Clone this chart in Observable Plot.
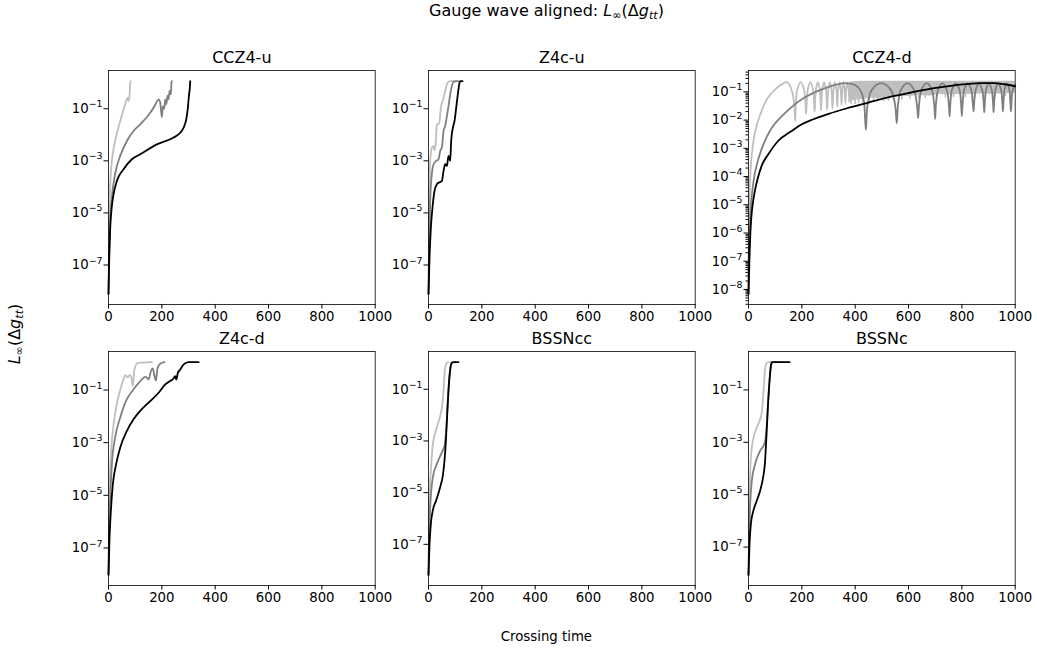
<!DOCTYPE html>
<html><head><meta charset="utf-8">
<script src="https://cdn.jsdelivr.net/npm/d3@7"></script>
<script src="https://cdn.jsdelivr.net/npm/@observablehq/plot@0.6"></script>
<style>
body{margin:0;background:#fff;font-family:"DejaVu Sans",sans-serif;}
#fig{position:relative;width:1037px;height:654px;overflow:hidden;background:#fff;}
.t{position:absolute;white-space:nowrap;color:#000;font-family:"DejaVu Sans",sans-serif;}
.t sub{font-size:70%;vertical-align:-0.28em;line-height:0;}
</style></head><body><div id="fig"></div><script>
// ---------- tick values ----------
const xTicks = [0, 200, 400, 600, 800, 1000];
const yTicksOdd = [1e-1, 1e-3, 1e-5, 1e-7];
const yTicksAll = [1e-1, 1e-2, 1e-3, 1e-4, 1e-5, 1e-6, 1e-7, 1e-8];
const panelTitles = ["CCZ4-u", "Z4c-u", "CCZ4-d", "Z4c-d", "BSSNcc", "BSSNc"];

// ---------- data: [crossing time, L_inf(Δg_tt)] ----------
// CCZ4-u
const ccz4uLight = [[0,7.8e-9],[2.75,2.8e-6],[6.5,1.26e-4],[12.75,1.0e-3],[25,5.8e-3],[44,0.034],[62.75,0.15],[71.5,0.26],[75,0.195],[79,0.35],[81.5,1.0],[84,1.15]];
const ccz4uMedium = [[0,7.8e-9],[3,3.2e-7],[6.5,5e-6],[12.75,4e-5],[25,3.2e-4],[44,1.55e-3],[69,5.8e-3],[94,0.014],[119,0.025],[144,0.048],[169,0.11],[181.5,0.19],[188,0.23],[194,0.17],[200,0.048],[204,0.126],[209,0.1],[213,0.23],[216.5,0.148],[221.5,0.316],[225,0.23],[229,0.48],[234,0.355],[236,1.0],[237.75,1.15]];
const ccz4uBlack = [[0,7.8e-9],[2.75,1.95e-7],[6.5,2.75e-6],[12.75,1.86e-5],[19,5.2e-5],[31.5,1.7e-4],[56.5,4.8e-4],[87.75,1.15e-3],[119,1.78e-3],[181.5,4.3e-3],[244,7.8e-3],[269,0.012],[281.5,0.0186],[291.5,0.039],[297.75,0.11],[301.5,0.31],[305,0.65],[306.5,1.15]];
// Z4c-u
const z4cuLight = [[0,7.8e-9],[2,3.2e-6],[4,1e-4],[6.4,1e-3],[12.6,3.2e-3],[19,3.7e-3],[23,2.5e-3],[27.6,5.8e-3],[31.4,0.025],[40,0.028],[46.4,0.11],[56.4,0.26],[62.6,0.48],[71.4,1.0],[81.4,1.15],[106,1.15]];
const z4cuMedium = [[0,7.8e-9],[3,1e-6],[6.4,2.9e-5],[12.6,3.1e-4],[19,7.4e-4],[29,1e-3],[37.6,1.15e-3],[43.9,2.4e-3],[50,3.2e-3],[56.4,0.014],[62.6,0.022],[68.9,0.052],[75,0.126],[81.4,0.355],[87.6,0.74],[93.9,1.1],[112.6,1.15]];
const z4cuBlack = [[0,7.8e-9],[3.9,1.95e-7],[8.9,2.75e-6],[15,1.6e-5],[22.6,7.1e-5],[31.4,1.26e-4],[41.4,1.5e-4],[50,1.66e-4],[56.4,4.1e-4],[62.6,7.4e-4],[68.9,6.3e-4],[75,1.55e-3],[81.4,1e-3],[85,5.8e-3],[91.4,0.0186],[97.6,0.034],[103.9,0.11],[110,0.355],[115,0.85],[119,1.15],[127.6,1.15]];
// CCZ4-d
const ccz4dLight = [[0,7e-9],[1,3.2e-7],[3,6.3e-6],[6,7.9e-5],[12,5.6e-4],[25,4e-3],[44,0.0158],[69,0.055],[100,0.123],[131,0.2],[144,0.22],[155,0.17],[165,0.089],[171,0.04],[175,0.0091],
  [177.5,0.038],[183,0.12],[195.5,0.22],[208,0.12],[213.5,0.038],[216,0.0166],
  [218,0.038],[222.4,0.12],[232,0.22],[241.6,0.12],[246,0.038],[248,0.02],
  [249.5,0.038],[252.8,0.12],[260,0.22],[267.2,0.12],[270.5,0.038],[272,0.0224],
  [273.4,0.038],[276.6,0.12],[283.5,0.22],[290.4,0.12],[293.6,0.038],[295,0.024],
  [296.2,0.04],[299,0.12],[305,0.22],[311,0.12],[313.8,0.04],[315,0.026],
  [318.6,0.12],[324,0.22],[329.4,0.12],[333,0.03],
  [336.2,0.12],[341,0.22],[345.8,0.12],[349,0.035],
  [351.8,0.12],[356,0.22],[360.2,0.12],[363,0.04],
  [366,0.12],[370.5,0.22],[375,0.12],[378,0.045]];
const ccz4dLightBand = [[378,0.045,0.22],[400,0.05,0.235],[430,0.055,0.24],[460,0.06,0.24],[490,0.058,0.24],[520,0.065,0.24],[560,0.07,0.24],[600,0.068,0.24],[640,0.075,0.24],[680,0.072,0.24],[720,0.08,0.24],[760,0.078,0.24],[800,0.082,0.24],[840,0.08,0.24],[880,0.085,0.24],[920,0.08,0.24],[960,0.085,0.24],[1000,0.09,0.24]];
const ccz4dLightSpikes = [[385,0.035],[400,0.036],[413,0.038],[428,0.04],[453,0.04],[469,0.042],[484,0.045],[506,0.045],[525,0.047],[544,0.05],[575,0.05],[606,0.055],[638,0.055],[663,0.058],[706,0.06],[738,0.06],[769,0.062],[813,0.062],[850,0.065],[888,0.065],[925,0.065],[963,0.068],[988,0.068]];
const ccz4dMedium = [[0,7e-9],[2,3.2e-7],[6.4,3.2e-6],[12.6,2.2e-5],[25,1.5e-4],[50,1.0e-3],[87.6,5.4e-3],[137.6,0.018],[200,0.055],[275,0.123],[350,0.2],[365,0.204],[380,0.195],[400,0.174],[415,0.132],[425,0.089],[433,0.045],[440,0.0045],
  [447,0.038],[463,0.12],[498,0.204],[533,0.12],[549,0.038],[556,0.0078],
  [561,0.038],[572,0.12],[596,0.204],[620,0.12],[631,0.038],[636,0.0117],
  [640,0.038],[649,0.12],[668,0.204],[687,0.12],[696,0.038],[700,0.011],
  [703,0.038],[711,0.12],[727,0.2],[743,0.12],[751,0.038],[754,0.0135],
  [757,0.038],[763,0.12],[777,0.2],[791,0.12],[797,0.038],[800,0.0138],
  [803,0.038],[809,0.12],[822,0.2],[835,0.12],[841,0.038],[844,0.0204],
  [846,0.038],[852,0.12],[864,0.2],[876,0.12],[882,0.038],[884,0.019],
  [886,0.038],[891,0.12],[901,0.2],[912,0.12],[917,0.038],[919,0.019],
  [921,0.038],[926,0.12],[936,0.2],[947,0.12],[952,0.038],[954,0.0204],
  [956,0.038],[960,0.12],[969,0.195],[978,0.12],[982,0.038],[984,0.0204],
  [986,0.038],[990,0.11],[1000,0.18]];
const ccz4dBlack = [[0,7e-9],[2,3.2e-8],[4,1.6e-7],[7,1e-6],[11,4e-6],[17,1.26e-5],[25,3.5e-5],[35,8.9e-5],[50,2.5e-4],[75,6.3e-4],[110,1.78e-3],[160,4e-3],[200,7.1e-3],[240,0.0105],[300,0.0166],[370,0.0263],[450,0.0417],[530,0.066],[610,0.095],[690,0.132],[780,0.174],[870,0.204],[920,0.204],[960,0.186],[1000,0.158]];
// Z4c-d
const z4cdLight = [[0,1e-8],[2,1e-6],[5,4e-5],[10,5e-4],[17,3.2e-3],[25,0.0126],[35,0.045],[45,0.112],[55,0.24],[63,0.37],[72,0.3],[80,0.38],[87,0.26],[91,0.14],[96,0.5],[102,0.87],[112,1.07],[163,1.15]];
const z4cdMedium = [[0,1e-8],[2,3.2e-7],[6.5,8.7e-6],[12.75,1.6e-4],[25,1.6e-3],[44,9.1e-3],[69,0.045],[94,0.107],[119,0.22],[138,0.316],[144,0.295],[150,0.25],[159,0.52],[166,0.66],[172.6,0.34],[177.6,0.23],[184,0.69],[194,1.0],[210,1.15]];
const z4cdBlack = [[0,9.5e-9],[4,2.7e-7],[9,2.7e-6],[16.5,2.75e-5],[29,1.6e-4],[44,6.6e-4],[69,2.8e-3],[94,7.8e-3],[119,0.0162],[156.5,0.038],[188,0.079],[212,0.162],[231,0.22],[244,0.275],[250,0.34],[254,0.25],[260,0.45],[269,0.6],[281,0.93],[300,1.15],[338,1.15]];
// BSSNcc
const bssnccLight = [[0,6.6e-9],[4,6.8e-6],[9,7.2e-5],[16.4,7.6e-4],[31.4,3.4e-3],[43.9,9.3e-3],[50,0.0195],[56.4,0.087],[60,0.38],[66.4,1.0],[75,1.12]];
const bssnccMedium = [[0,6.6e-9],[2,1.6e-7],[6.4,2.8e-6],[16.4,4e-5],[31.4,1.3e-4],[50,3.6e-4],[60,6.6e-4],[66,2.5e-3],[71,0.0178],[76,0.14],[81,0.56],[87,1.07],[100,1.12]];
const bssnccBlack = [[0,6.6e-9],[4,1.1e-7],[9,6.5e-7],[16.4,2.1e-6],[29,5.1e-6],[43.9,1.66e-5],[53.9,4.7e-5],[58.9,1.3e-4],[65.2,1.0e-3],[71.4,0.0195],[76.4,0.155],[81.4,0.59],[87.6,1.07],[93.9,1.12],[112.6,1.12]];
// BSSNc
const bssncLight = [[0,8.7e-9],[4,8.1e-6],[9,2.7e-4],[19,1.55e-3],[31.4,3.7e-3],[43.9,7.8e-3],[50,0.0138],[56.4,0.091],[61.4,0.52],[66.4,1.02],[75,1.15],[87.6,1.15]];
const bssncMedium = [[0,8.7e-9],[2,1.6e-7],[6.4,4.6e-6],[12.6,3.5e-5],[25,1.5e-4],[43.9,4.8e-4],[58.9,8.7e-4],[64,1.4e-3],[68,4e-3],[72.6,0.025],[78.9,0.24],[83.9,0.85],[88.9,1.15],[120,1.15]];
const bssncBlack = [[0,8.7e-9],[4,1.4e-7],[9,7.9e-7],[19,2.6e-6],[31.4,6e-6],[43.9,1.45e-5],[53.9,4.1e-5],[61.4,1.5e-4],[66.4,1.15e-3],[72.6,0.0214],[78.9,0.22],[83.9,0.81],[88.9,1.15],[154,1.15]];

// ---------- layout ----------
const FW = 266.7, FH = 234;
const ML = 62, MR = 26, MT = 32, MB = 34;
const colLeft = [108.3, 428.3, 748.3];
const rowTop = [70, 351];
const COL = {light: "#bfbfbf", medium: "#7f7f7f", dark: "#000000"};
const SUP = {"0":"⁰","1":"¹","2":"²","3":"³","4":"⁴","5":"⁵","6":"⁶","7":"⁷","8":"⁸","9":"⁹","-":"⁻"};
const UNSUP = Object.fromEntries(Object.entries(SUP).map(([k, v]) => [v, k === "-" ? "−" : k]));
const fmt = v => "10" + String(Math.round(Math.log10(v))).split("").map(c => SUP[c]).join("");

const panels = [
  {title: panelTitles[0], c: 0, r: 0, s: [ccz4uLight, ccz4uMedium, ccz4uBlack], yt: yTicksOdd},
  {title: panelTitles[1], c: 1, r: 0, s: [z4cuLight, z4cuMedium, z4cuBlack], yt: yTicksOdd},
  {title: panelTitles[2], c: 2, r: 0, s: [ccz4dLight, ccz4dMedium, ccz4dBlack], yt: yTicksAll, band: true},
  {title: panelTitles[3], c: 0, r: 1, s: [z4cdLight, z4cdMedium, z4cdBlack], yt: yTicksOdd},
  {title: panelTitles[4], c: 1, r: 1, s: [bssnccLight, bssnccMedium, bssnccBlack], yt: yTicksOdd},
  {title: panelTitles[5], c: 2, r: 1, s: [bssncLight, bssncMedium, bssncBlack], yt: yTicksOdd}
];

function logDomain(vals) {
  const a = Math.log10(d3.min(vals)), b = Math.log10(d3.max(vals)), m = 0.05 * (b - a);
  return [10 ** (a - m), 10 ** (b + m)];
}

const fig = document.getElementById("fig");
for (const p of panels) {
  let vals = p.s.flat().map(d => d[1]);
  if (p.band) vals = vals.concat(ccz4dLightBand.map(d => d[2]));
  const dom = logDomain(vals);
  const colors = [COL.light, COL.medium, COL.dark];
  const curve = p.band ? "catmull-rom" : "monotone-x";
  const marks = [];
  if (p.band) {
    marks.push(Plot.areaY(ccz4dLightBand, {x: d => d[0], y1: d => d[1], y2: d => d[2], fill: COL.light, curve: "linear"}));
    marks.push(Plot.ruleX(ccz4dLightSpikes, {x: d => d[0], y1: d => d[1], y2: 0.1, stroke: COL.light, strokeWidth: 1.6}));
  }
  p.s.forEach((s, i) => {
    marks.push(Plot.line(s, {x: d => d[0], y: d => d[1], stroke: colors[i], strokeWidth: 1.8,
      curve: (p.band && i === 2) ? "monotone-x" : curve}));
  });
  marks.push(Plot.frame({stroke: "#000", strokeWidth: 0.8}));
  marks.push(Plot.axisX({ticks: xTicks, tickSize: 4.5, tickPadding: 3, tickFormat: d => String(d), label: null}));
  marks.push(Plot.axisY({ticks: p.yt, tickSize: 4.5, tickPadding: 1.5, tickFormat: fmt, label: null}));
  if (p.band) {
    const minor = [];
    for (let k = -9; k <= 0; k++) for (let m = 2; m <= 9; m++) {
      const v = m * 10 ** k;
      if (v > dom[0] && v < dom[1]) minor.push(v);
    }
    marks.push(Plot.axisY({ticks: minor, tickSize: 2.5, tickFormat: () => "", label: null}));
  }
  marks.push(Plot.text([p.title], {frameAnchor: "top", lineAnchor: "bottom", dy: -7.3, fontSize: 16, text: d => d}));
  const svg = Plot.plot({
    width: ML + FW + MR, height: MT + FH + MB,
    marginLeft: ML, marginRight: MR, marginTop: MT, marginBottom: MB,
    x: {domain: [0, 1000]},
    y: {type: "log", domain: dom},
    style: {fontFamily: "DejaVu Sans", fontSize: "13.3px", color: "#000", background: "transparent", overflow: "visible"},
    marks
  });
  // render exponent as a raised, smaller tspan (like matplotlib mathtext)
  svg.querySelectorAll("text").forEach(t => {
    const m = /^10([⁻⁰¹²³⁴⁵⁶⁷⁸⁹]+)$/.exec(t.textContent);
    if (!m) return;
    const exp = m[1].split("").map(c => UNSUP[c]).join("");
    t.textContent = "10";
    const ts = document.createElementNS("http://www.w3.org/2000/svg", "tspan");
    ts.setAttribute("font-size", "9.4px");
    ts.setAttribute("dy", "-5.7");
    ts.textContent = exp;
    t.appendChild(ts);
  });
  svg.style.position = "absolute";
  svg.style.left = (colLeft[p.c] - ML) + "px";
  svg.style.top = (rowTop[p.r] - MT) + "px";
  svg.style.maxWidth = "none";
  fig.appendChild(svg);
}

// ---------- figure-level text ----------
function addText(html, css) {
  const d = document.createElement("div");
  d.className = "t";
  d.innerHTML = html;
  Object.assign(d.style, css);
  fig.appendChild(d);
}
addText('Gauge wave aligned: <i>L</i><sub>∞</sub>(Δ<i>g</i><sub><i>tt</i></sub>)',
  {left: "546.5px", top: "2.5px", transform: "translateX(-50%)", fontSize: "16px", lineHeight: "16px"});
addText('Crossing time',
  {left: "546.4px", top: "629.8px", transform: "translateX(-50%)", fontSize: "13.3px", lineHeight: "13.3px"});
addText('<i>L</i><sub>∞</sub>(Δ<i>g</i><sub><i>tt</i></sub>)',
  {left: "15px", top: "334px", transform: "translate(-50%,-50%) rotate(-90deg)", fontSize: "16px", lineHeight: "16px"});
</script></body></html>
